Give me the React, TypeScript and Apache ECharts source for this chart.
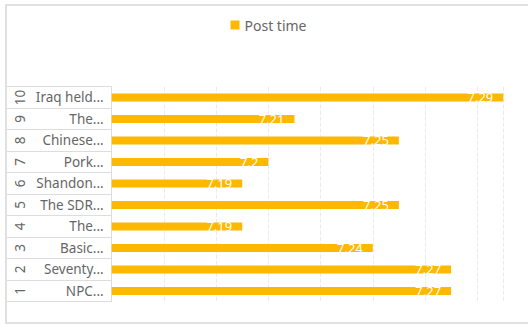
import React, { useEffect, useRef } from "react";
import * as echarts from "echarts";

const categoryLabels = [
  "NPC...",
  "Seventy...",
  "Basic...",
  "The...",
  "The SDR...",
  "Shandon...",
  "Pork...",
  "Chinese...",
  "The...",
  "Iraq held...",
];
const rankLabels = ["1", "2", "3", "4", "5", "6", "7", "8", "9", "10"];
const postTime = [7.27, 7.27, 7.24, 7.19, 7.25, 7.19, 7.2, 7.25, 7.21, 7.29];
const seriesName = "Post time";

const FONT = "'Noto Sans', 'Open Sans', sans-serif";

export default function App() {
  const ref = useRef<HTMLDivElement>(null);
  useEffect(() => {
    if (!ref.current) return;
    const chart = echarts.init(ref.current, undefined, { renderer: "svg" });
    chart.setOption({
      animation: false,
      textStyle: { fontFamily: FONT },
      legend: {
        data: [seriesName],
        top: 7,
        left: "center",
        itemWidth: 9,
        itemHeight: 9,
        itemGap: 6,
        icon: "rect",
        textStyle: { color: "#666", fontSize: 14, fontFamily: FONT },
      },
      grid: { left: 104.7, top: 80.7, bottom: 20.3, right: 26.7, containLabel: false },
      xAxis: {
        type: "value",
        min: 7.14,
        max: 7.29,
        interval: 0.02,
        axisLabel: { show: false },
        axisLine: { show: false },
        axisTick: { show: false },
        splitLine: { show: true, lineStyle: { color: "#eaeaea", type: "dashed" } },
      },
      yAxis: [
        {
          type: "category",
          data: categoryLabels,
          axisLine: { show: true, lineStyle: { color: "#ddd" } },
          axisTick: { show: true, length: 104.7, lineStyle: { color: "#ddd" } },
          axisLabel: { color: "#666", fontSize: 13.5, margin: 8, fontFamily: FONT },
        },
        {
          type: "category",
          data: rankLabels,
          position: "left",
          offset: 80,
          axisLine: { show: false },
          axisTick: { show: false },
          axisLabel: { color: "#666", fontSize: 13.5, margin: 5, rotate: 90, fontFamily: FONT },
        },
      ],
      series: [
        {
          name: seriesName,
          type: "bar",
          yAxisIndex: 0,
          data: postTime,
          barWidth: 8,
          itemStyle: { color: "#FFB800" },
          label: {
            show: true,
            position: "insideRight",
            distance: 10,
            color: "#fff",
            fontSize: 13,
            fontFamily: FONT,
          },
        },
      ],
    });
    return () => chart.dispose();
  }, []);
  return (
    <div
      style={{
        position: "absolute",
        left: 5,
        top: 4,
        width: 527,
        height: 320,
        boxSizing: "border-box",
        border: "2px solid #e0e0e0",
        background: "#fff",
      }}
    >
      <div ref={ref} style={{ width: 523, height: 316 }} />
    </div>
  );
}
